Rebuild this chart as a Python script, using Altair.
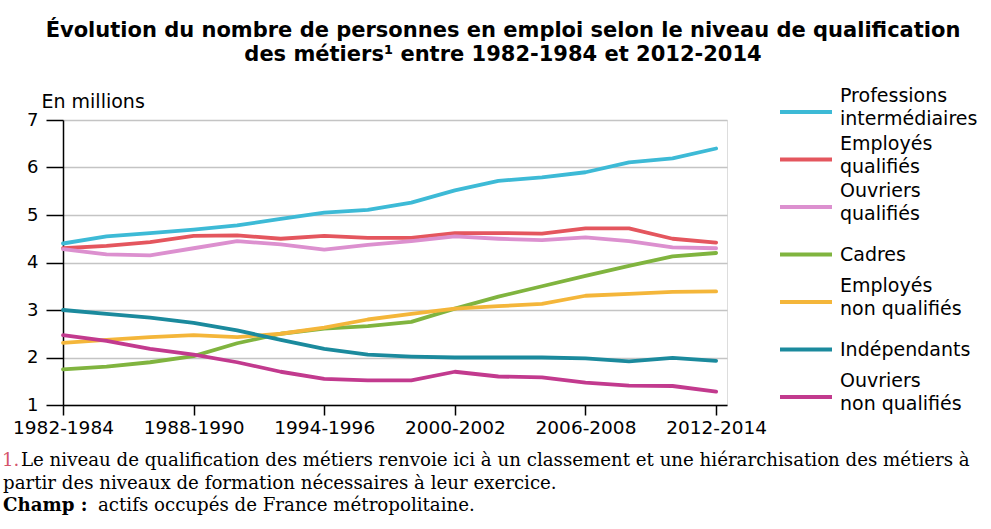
import altair as alt
import pandas as pd

# ---- data (three-year periods, start year) ----
years = [1982, 1984, 1986, 1988, 1990, 1992, 1994, 1996, 1998, 2000, 2002, 2004, 2006, 2008, 2010, 2012]
prof_inter = [4.40, 4.55, 4.62, 4.69, 4.78, 4.92, 5.05, 5.11, 5.26, 5.52, 5.72, 5.79, 5.90, 6.11, 6.19, 6.40]
empl_qual = [4.30, 4.35, 4.43, 4.56, 4.57, 4.50, 4.56, 4.52, 4.52, 4.62, 4.62, 4.61, 4.72, 4.72, 4.50, 4.42]
ouvr_qual = [4.28, 4.17, 4.15, 4.30, 4.45, 4.38, 4.27, 4.37, 4.45, 4.55, 4.50, 4.47, 4.53, 4.45, 4.32, 4.30]
cadres = [1.75, 1.81, 1.90, 2.03, 2.30, 2.50, 2.61, 2.66, 2.75, 3.03, 3.28, 3.50, 3.72, 3.93, 4.13, 4.20]
empl_nonqual = [2.31, 2.37, 2.43, 2.47, 2.43, 2.50, 2.63, 2.80, 2.92, 3.03, 3.08, 3.13, 3.30, 3.34, 3.38, 3.39]
independants = [3.00, 2.92, 2.84, 2.73, 2.57, 2.37, 2.18, 2.06, 2.02, 2.00, 2.00, 2.00, 1.98, 1.92, 1.99, 1.93]
ouvr_nonqual = [2.47, 2.35, 2.18, 2.06, 1.90, 1.70, 1.55, 1.52, 1.52, 1.70, 1.60, 1.58, 1.47, 1.41, 1.40, 1.28]

series_names = [
    "Professions intermédiaires",
    "Employés qualifiés",
    "Ouvriers qualifiés",
    "Cadres",
    "Employés non qualifiés",
    "Indépendants",
    "Ouvriers non qualifiés",
]
legend_labels = [
    "Professions\nintermédiaires",
    "Employés\nqualifiés",
    "Ouvriers\nqualifiés",
    "Cadres",
    "Employés\nnon qualifiés",
    "Indépendants",
    "Ouvriers\nnon qualifiés",
]
series_values = [prof_inter, empl_qual, ouvr_qual, cadres, empl_nonqual, independants, ouvr_nonqual]
series_colors = ["#3dbad6", "#e4565e", "#dc90cf", "#80b43f", "#f4b63a", "#1b8a9d", "#c23a8e"]

tick_years = [1982, 1988, 1994, 2000, 2006, 2012]
y_ticks = [1, 2, 3, 4, 5, 6, 7]

title_lines = [
    "Évolution du nombre de personnes en emploi selon le niveau de qualification",
    "des métiers¹ entre 1982-1984 et 2012-2014",
]
note_num = "1."
note_line1 = "Le niveau de qualification des métiers renvoie ici à un classement et une hiérarchisation des métiers à"
note_line2 = "partir des niveaux de formation nécessaires à leur exercice."
champ_bold = "Champ :"
champ_text = "actifs occupés de France métropolitaine."

rows = []
for name, vals in zip(series_names, series_values):
    for yr, v in zip(years, vals):
        rows.append({"annee": yr, "valeur": v, "categorie": name})
df = pd.DataFrame(rows)

legend_df = pd.DataFrame({
    "categorie": series_names,
    "label": legend_labels,
    "lignes": [l.count("\n") + 1 for l in legend_labels],
})

SANS = "DejaVu Sans"
SERIF = "DejaVu Serif"

color_scale = alt.Scale(domain=series_names, range=series_colors)

lines = alt.Chart(df).mark_line(strokeWidth=3.8, strokeCap="round", strokeJoin="round").encode(
    x=alt.X(
        "annee:Q",
        scale=alt.Scale(domain=[1982, 2012.5], nice=False, zero=False),
        axis=alt.Axis(
            values=tick_years,
            labelExpr="datum.value + '-' + (datum.value + 2)",
            title=None,
            grid=False,
            tickSize=10,
            tickColor="black",
            tickWidth=1.5,
            domainColor="black",
            domainWidth=1.5,
            labelFont=SANS,
            labelFontSize=18.5,
            labelColor="black",
            labelPadding=3,
            labelFlush=False,
            labelOverlap=False,
        ),
    ),
    y=alt.Y(
        "valeur:Q",
        scale=alt.Scale(domain=[1, 7], nice=False, zero=False),
        axis=alt.Axis(
            values=y_ticks,
            title="En millions",
            titleAngle=0,
            titleAlign="left",
            titleBaseline="alphabetic",
            titleX=-22,
            titleY=-13,
            titleFont=SANS,
            titleFontSize=19,
            titleFontWeight="normal",
            titleColor="black",
            tickSize=17,
            tickColor="black",
            tickWidth=1.5,
            domainColor="black",
            domainWidth=1.5,
            labelFont=SANS,
            labelFontSize=18,
            labelColor="black",
            labelPadding=8,
            grid=True,
            gridColor="#c4c4c4",
            gridWidth=1.5,
        ),
    ),
    color=alt.Color("categorie:N", scale=color_scale, legend=None),
)

# ---- legend built from the category list (point scale for the rows) ----
leg_y = alt.Y(
    "categorie:N",
    sort=series_names,
    scale=alt.Scale(type="point", domain=series_names, range=[-8, 277], padding=0),
    axis=None,
)
leg_base = alt.Chart(legend_df)
leg_rules = leg_base.mark_rule(strokeWidth=4).encode(
    y=leg_y,
    x=alt.value(717),
    x2=alt.value(769),
    color=alt.Color("categorie:N", scale=color_scale, legend=None),
)
leg_text_multi = leg_base.transform_filter("datum.lignes == 2").mark_text(
    align="left", baseline="middle", font=SANS, fontSize=19, lineBreak="\n", lineHeight=23, dy=-16, color="black"
).encode(y=leg_y, x=alt.value(777), text="label:N")
leg_text_single = leg_base.transform_filter("datum.lignes == 1").mark_text(
    align="left", baseline="middle", font=SANS, fontSize=19, color="black"
).encode(y=leg_y, x=alt.value(777), text="label:N")

notes_df = pd.DataFrame({"k": [0]})
base_txt = alt.Chart(notes_df)


def txt(s, x, y, color="black", weight="normal", size=18.2, font=SERIF):
    return base_txt.mark_text(
        align="left", baseline="alphabetic", font=font, fontSize=size, fontWeight=weight, color=color
    ).encode(x=alt.value(x), y=alt.value(y), text=alt.value(s))


notes = [
    txt(note_num, 2 - 63, 466 - 120, color="#d4556b"),
    txt(note_line1, 21 - 63, 466 - 120),
    txt(note_line2, 3 - 63, 489 - 120),
    txt(champ_bold, 3 - 63, 511 - 120, weight="bold"),
    txt(champ_text, 98 - 63, 511 - 120),
]

chart = alt.layer(lines, leg_rules, leg_text_multi, leg_text_single, *notes).resolve_scale(
    y="independent"
).properties(
    width=664,
    height=285,
    padding={"left": 63, "top": 120, "right": 264, "bottom": 124},
    autosize=alt.AutoSizeParams(type="none"),
    title=alt.TitleParams(
        text=title_lines,
        font="DejaVu Sans",
        fontSize=21,
        fontWeight="bold",
        color="black",
        anchor="middle",
        frame="group",
        lineHeight=24,
        dx=108,
        offset=22,
    ),
).configure_view(stroke=None).configure(background="white")

chart.save("out.html", embed_options={"renderer": "svg", "actions": False})
